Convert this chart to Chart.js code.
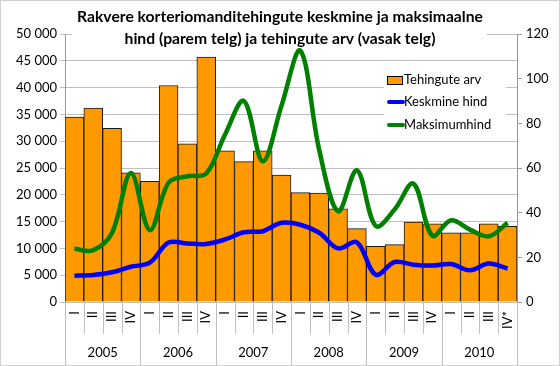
<!DOCTYPE html>
<html lang="et">
<head>
    <meta charset="UTF-8">
    <title>Rakvere korteriomanditehingud</title>
    <script src="https://cdn.jsdelivr.net/npm/chart.js"></script>
    <style>
        body {
            margin: 0;
            background: #fff;
        }
        #wrap {
            width: 560px;
            height: 366px;
        }
    </style>
</head>
<body>
    <div id="wrap">
        <canvas id="myChart" width="560" height="366"></canvas>
    </div>

    <script>
        // andmed
        const quarters = ['I', 'II', 'III', 'IV', 'I', 'II', 'III', 'IV', 'I', 'II', 'III', 'IV',
                          'I', 'II', 'III', 'IV', 'I', 'II', 'III', 'IV', 'I', 'II', 'III', 'IV*'];
        const years = ['2005', '2006', '2007', '2008', '2009', '2010'];
        const tehinguteArv = [34500, 36200, 32400, 24100, 22500, 40400, 29500, 45700,
                              28200, 26200, 28200, 23700, 20400, 20300, 17400, 13700,
                              10400, 10700, 14900, 14600, 12900, 12900, 14600, 14100];
        const keskmineHind = [11.8, 12.1, 13.3, 15.8, 17.6, 26.6, 26.2, 26.0, 28.0, 31.2, 31.7, 35.5,
                              34.6, 31.0, 24.0, 26.7, 12.2, 17.9, 16.7, 16.3, 17.0, 14.2, 17.2, 15.0];
        const maksimumHind = [23.8, 23.2, 31.0, 57.8, 32.2, 53.4, 56.3, 57.5, 75.0, 90.0, 63.0, 88.0,
                              112.5, 68.0, 40.6, 59.0, 34.0, 41.4, 53.0, 29.7, 36.6, 32.4, 29.4, 35.4];
        const seriesNames = ['Tehingute arv', 'Keskmine hind', 'Maksimumhind'];
        const titleLines = ['Rakvere korteriomanditehingute keskmine ja maksimaalne',
                            'hind (parem telg) ja tehingute arv (vasak telg)'];

        const FONT = 'Lato, "Liberation Sans", sans-serif';
        const ORANGE = '#FF9900';
        const BLUE = '#0000FF';
        const GREEN = '#008000';
        const GRID = '#bfbfbf';

        function spaced(v) {
            return String(v).replace(/\B(?=(\d{3})+(?!\d))/g, ' ');
        }

        // pealkiri valge taustaga (katab ruudustiku)
        const titlePlugin = {
            id: 'excelTitle',
            beforeDatasetsDraw(chart) {
                const ctx = chart.ctx;
                ctx.save();
                ctx.fillStyle = '#fff';
                ctx.fillRect(72, 1, 415, 48);
                ctx.fillStyle = '#000';
                ctx.textAlign = 'center';
                ctx.textBaseline = 'middle';
                ctx.font = 'bold 15px ' + FONT;
                // sobita esimene rida ~406px laiusesse
                const w = ctx.measureText(titleLines[0]).width;
                const size = 15 * 406 / w;
                ctx.font = 'bold ' + size.toFixed(2) + 'px ' + FONT;
                ctx.fillText(titleLines[0], 280, 17);
                ctx.fillText(titleLines[1], 280, 39);
                ctx.restore();
            }
        };

        // legend, x-telje pealdised ja raam
        const decorPlugin = {
            id: 'excelDecor',
            afterDraw(chart) {
                const ctx = chart.ctx;
                const area = chart.chartArea;
                const xs = chart.scales.x;
                ctx.save();

                // legend
                ctx.fillStyle = '#fff';
                ctx.fillRect(384, 67, 122, 71);
                ctx.font = '13px ' + FONT;
                ctx.textBaseline = 'middle';
                ctx.textAlign = 'left';
                ctx.fillStyle = ORANGE;
                ctx.fillRect(387.5, 76.5, 15, 8);
                ctx.strokeStyle = '#000';
                ctx.lineWidth = 1;
                ctx.strokeRect(387.5, 76.5, 15, 8);
                ctx.lineCap = 'round';
                ctx.lineWidth = 4;
                ctx.strokeStyle = BLUE;
                ctx.beginPath(); ctx.moveTo(389, 102); ctx.lineTo(403, 102); ctx.stroke();
                ctx.strokeStyle = GREEN;
                ctx.beginPath(); ctx.moveTo(389, 125); ctx.lineTo(403, 125); ctx.stroke();
                ctx.fillStyle = '#000';
                ctx.fillText(seriesNames[0], 404, 80);
                ctx.fillText(seriesNames[1], 404, 102);
                ctx.fillText(seriesNames[2], 404, 125);

                // kategooriate eraldajad
                const step = (area.right - area.left) / quarters.length;
                ctx.lineCap = 'butt';
                ctx.lineWidth = 1;
                ctx.strokeStyle = GRID;
                for (let i = 0; i <= quarters.length; i++) {
                    const x = Math.round(area.left + i * step) + 0.5;
                    const full = i % 4 === 0;
                    ctx.beginPath();
                    ctx.moveTo(x, area.bottom);
                    ctx.lineTo(x, full ? 365 : 334);
                    ctx.stroke();
                }

                // kvartalid (pööratud)
                ctx.fillStyle = '#000';
                ctx.font = '13px ' + FONT;
                ctx.textAlign = 'right';
                ctx.textBaseline = 'middle';
                quarters.forEach((q, i) => {
                    const x = xs.getPixelForValue(i);
                    ctx.save();
                    ctx.translate(x, 311);
                    ctx.rotate(-Math.PI / 2);
                    ctx.fillText(q, 0, 0);
                    ctx.restore();
                });

                // aastad
                ctx.textAlign = 'center';
                years.forEach((y, k) => {
                    const x = area.left + (k * 4 + 2) * step;
                    ctx.fillText(y, x, 353);
                });

                // raam
                ctx.strokeStyle = '#d0d0d0';
                ctx.strokeRect(0.5, 0.5, 559, 365);
                ctx.restore();
            }
        };

        const ctx = document.getElementById('myChart').getContext('2d');
        const myChart = new Chart(ctx, {
            type: 'bar',
            data: {
                labels: quarters,
                datasets: [
                    {
                        type: 'line',
                        label: seriesNames[2],
                        data: maksimumHind,
                        yAxisID: 'y1',
                        borderColor: GREEN,
                        borderWidth: 4.5,
                        pointRadius: 0,
                        tension: 0.35,
                        fill: false,
                        order: 1
                    },
                    {
                        type: 'line',
                        label: seriesNames[1],
                        data: keskmineHind,
                        yAxisID: 'y1',
                        borderColor: BLUE,
                        borderWidth: 4.5,
                        pointRadius: 0,
                        tension: 0.35,
                        fill: false,
                        order: 2
                    },
                    {
                        type: 'bar',
                        label: seriesNames[0],
                        data: tehinguteArv,
                        yAxisID: 'y',
                        backgroundColor: ORANGE,
                        borderColor: '#1a1a1a',
                        borderWidth: 1,
                        categoryPercentage: 1,
                        barPercentage: 1,
                        order: 3
                    }
                ]
            },
            options: {
                responsive: false,
                animation: false,
                layout: {
                    padding: { top: 34, bottom: 64, left: 0, right: 0 }
                },
                plugins: {
                    legend: { display: false },
                    title: { display: false },
                    tooltip: { enabled: false }
                },
                scales: {
                    x: {
                        display: false
                    },
                    y: {
                        position: 'left',
                        min: 0,
                        max: 50000,
                        ticks: {
                            stepSize: 5000,
                            color: '#000',
                            padding: 3,
                            font: { family: FONT, size: 13 },
                            callback: v => spaced(v)
                        },
                        grid: { color: GRID, tickLength: 5 },
                        border: { display: true, color: '#999' },
                        afterFit: s => { s.width = 65; }
                    },
                    y1: {
                        position: 'right',
                        min: 0,
                        max: 120,
                        ticks: {
                            stepSize: 20,
                            color: '#000',
                            padding: 4,
                            font: { family: FONT, size: 13 }
                        },
                        grid: { drawOnChartArea: false, color: '#999', tickLength: 5 },
                        border: { display: true, color: '#999' },
                        afterFit: s => { s.width = 43; }
                    }
                }
            },
            plugins: [titlePlugin, decorPlugin]
        });
    </script>
</body>
</html>
